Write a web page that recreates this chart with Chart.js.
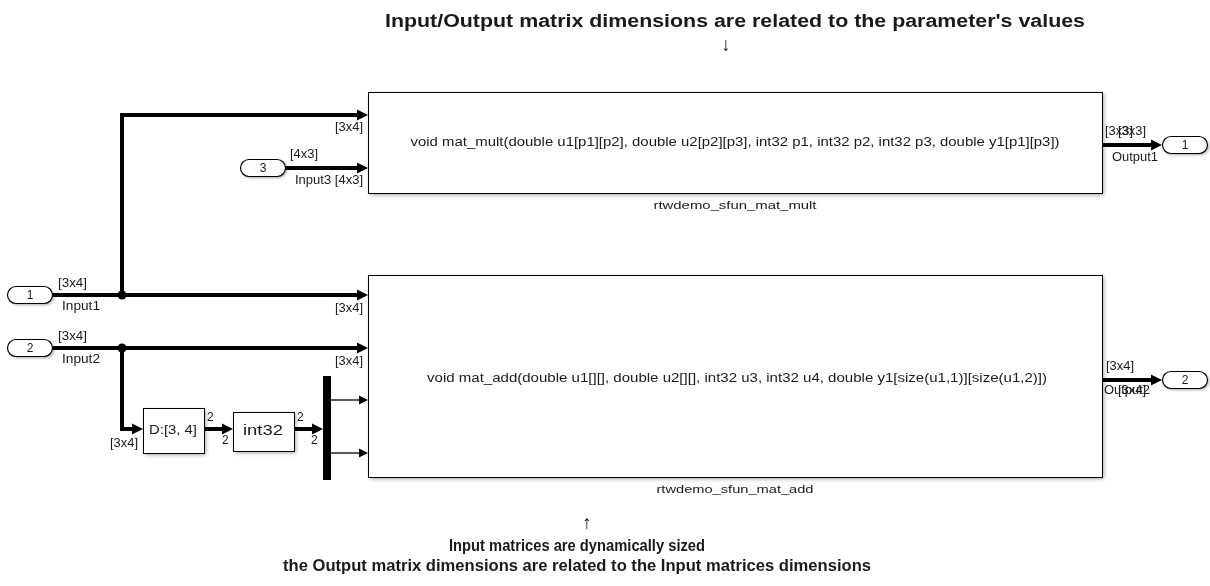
<!DOCTYPE html>
<html>
<head>
<meta charset="utf-8">
<script src="https://cdn.jsdelivr.net/npm/chart.js@4/dist/chart.umd.min.js"></script>
<style>
  html, body { margin: 0; padding: 0; background: #ffffff; }
  canvas { display: block; }
</style>
</head>
<body>
<canvas id="diagram" width="1210" height="586"></canvas>
<script>
// --- DIAGRAM TEXT ---
const headerNote = "Input/Output matrix dimensions are related to the parameter's values";
const footerNote = ["Input matrices are dynamically sized",
                    "the Output matrix dimensions are related to the Input matrices dimensions"];
const sfunSignatures = [
  "void mat_mult(double u1[p1][p2], double u2[p2][p3], int32 p1, int32 p2, int32 p3, double y1[p1][p3])",
  "void mat_add(double u1[][], double u2[][], int32 u3, int32 u4, double y1[size(u1,1)][size(u1,2)])"
];
const sfunNames = ["rtwdemo_sfun_mat_mult", "rtwdemo_sfun_mat_add"];
const inportNumbers = ["1", "2", "3"];
const outportNumbers = ["1", "2"];

// --- DIAGRAM GEOMETRY (x, y in picture units) ---
// blocks: [left, top, right, bottom]
const sfunBoxes = [[368, 92, 1102, 193], [368, 275, 1102, 477]];
const smallBoxes = [[143, 408, 204, 453], [233, 412, 294, 451]];
const smallBoxText = ["D:[3, 4]", "int32"];
const inportCenters = [[30, 295], [30, 348], [263, 168]];
const outportCenters = [[1185, 145], [1185, 380]];
const muxBar = [[327, 376], [327, 480]];
const junctions = [[122, 295], [122, 348]];

// signals (thick), each ends with an arrow
const thickSignals = [
  [[53, 295], [368, 295]],
  [[122, 295], [122, 115], [368, 115]],
  [[285, 168], [368, 168]],
  [[53, 348], [368, 348]],
  [[122, 348], [122, 429], [143, 429]],
  [[204, 429], [233, 429]],
  [[294, 429], [323, 429]],
  [[1102, 145], [1162, 145]],
  [[1102, 380], [1162, 380]]
];
const thinSignals = [
  [[331, 400], [368, 400]],
  [[331, 453], [368, 453]]
];

// signal dimension labels: text, x, y, align, width
const dimLabels = [
  ["[3x4]", 363, 128, 'right', 28],
  ["[4x3]", 290, 155, 'left', 28],
  ["Input3 [4x3]", 295, 181, 'left', 68],
  ["[3x4]", 58, 284, 'left', 29],
  ["Input1", 62, 307, 'left', 38],
  ["[3x4]", 363, 309, 'right', 28],
  ["[3x4]", 58, 337, 'left', 29],
  ["Input2", 62, 360, 'left', 38],
  ["[3x4]", 363, 362, 'right', 28],
  ["[3x4]", 110, 444, 'left', 28],
  ["2", 207, 418, 'left', 0],
  ["2", 222, 441, 'left', 0],
  ["2", 297, 418, 'left', 0],
  ["2", 311, 441, 'left', 0],
  ["[3x3]", 1105, 132, 'left', 28],
  ["[3x3]", 1118, 132, 'left', 28],
  ["Output1", 1112, 158, 'left', 46],
  ["[3x4]", 1106, 367, 'left', 28],
  ["Output2", 1104, 391, 'left', 46],
  ["[3x4]", 1118, 391, 'left', 28]
];

const FONT = '"Liberation Sans", Arial, Helvetica, sans-serif';

function pts(list) {
  return list.map(p => ({ x: p[0], y: p[1] }));
}

// pull the end of a signal back so the arrowhead tip stays sharp
function trimmed(list, cut) {
  const out = list.map(p => p.slice());
  const a = out[out.length - 2], b = out[out.length - 1];
  const dx = b[0] - a[0], dy = b[1] - a[1];
  const len = Math.hypot(dx, dy) || 1;
  b[0] -= dx / len * cut;
  b[1] -= dy / len * cut;
  return out;
}

const datasets = [];
thickSignals.forEach(s => datasets.push({
  type: 'line', data: pts(trimmed(s, 6)), showLine: true, borderColor: '#000', borderWidth: 4,
  pointRadius: 0, fill: false, tension: 0, borderCapStyle: 'butt', borderJoinStyle: 'miter'
}));
thinSignals.forEach(s => datasets.push({
  type: 'line', data: pts(trimmed(s, 5)), showLine: true, borderColor: '#000', borderWidth: 1.3,
  pointRadius: 0, fill: false, tension: 0, borderCapStyle: 'butt'
}));
datasets.push({
  type: 'line', data: pts(muxBar), showLine: true, borderColor: '#000', borderWidth: 8,
  pointRadius: 0, fill: false, borderCapStyle: 'butt'
});
datasets.push({
  type: 'scatter', data: pts(junctions), pointRadius: 4.5, pointBackgroundColor: '#000',
  pointBorderColor: '#000', pointBorderWidth: 0
});

function px(chart, x) { return chart.scales.x.getPixelForValue(x); }
function py(chart, y) { return chart.scales.y.getPixelForValue(y); }

function drawBox(chart, b, shadow) {
  const ctx = chart.ctx;
  const x1 = px(chart, b[0]), y1 = py(chart, b[1]), x2 = px(chart, b[2]), y2 = py(chart, b[3]);
  ctx.save();
  if (shadow) {
    ctx.shadowColor = 'rgba(0,0,0,0.35)';
    ctx.shadowBlur = 4;
    ctx.shadowOffsetX = 2;
    ctx.shadowOffsetY = 2;
  }
  ctx.fillStyle = '#fff';
  ctx.fillRect(x1, y1, x2 - x1, y2 - y1);
  ctx.restore();
}

function outlineBox(chart, b) {
  const ctx = chart.ctx;
  const x1 = Math.round(px(chart, b[0])) + 0.5, y1 = Math.round(py(chart, b[1])) + 0.5;
  const x2 = Math.round(px(chart, b[2])) + 0.5, y2 = Math.round(py(chart, b[3])) + 0.5;
  ctx.save();
  ctx.strokeStyle = '#000';
  ctx.lineWidth = 1;
  ctx.strokeRect(x1, y1, x2 - x1, y2 - y1);
  ctx.restore();
}

function drawPort(chart, c, label) {
  const ctx = chart.ctx;
  const cx = px(chart, c[0]), cy = py(chart, c[1]);
  const w = 45, h = 17, r = h / 2;
  const x = cx - w / 2, y = cy - h / 2;
  ctx.save();
  ctx.beginPath();
  ctx.moveTo(x + r, y);
  ctx.lineTo(x + w - r, y);
  ctx.arc(x + w - r, cy, r, -Math.PI / 2, Math.PI / 2);
  ctx.lineTo(x + r, y + h);
  ctx.arc(x + r, cy, r, Math.PI / 2, Math.PI * 1.5);
  ctx.closePath();
  ctx.shadowColor = 'rgba(0,0,0,0.35)';
  ctx.shadowBlur = 3;
  ctx.shadowOffsetX = 1.5;
  ctx.shadowOffsetY = 1.5;
  ctx.fillStyle = '#fff';
  ctx.fill();
  ctx.shadowColor = 'transparent';
  ctx.strokeStyle = '#000';
  ctx.lineWidth = 1.2;
  ctx.stroke();
  ctx.restore();
  drawText(chart, label, c[0], c[1] + 0.5, 'center', '12px ' + FONT, 0);
}

function drawArrow(chart, s, len, half) {
  const ctx = chart.ctx;
  const a = s[s.length - 2], b = s[s.length - 1];
  const ax = px(chart, a[0]), ay = py(chart, a[1]), bx = px(chart, b[0]), by = py(chart, b[1]);
  const ang = Math.atan2(by - ay, bx - ax);
  ctx.save();
  ctx.translate(bx, by);
  ctx.rotate(ang);
  ctx.beginPath();
  ctx.moveTo(0, 0);
  ctx.lineTo(-len, -half);
  ctx.lineTo(-len, half);
  ctx.closePath();
  ctx.fillStyle = '#000';
  ctx.fill();
  ctx.restore();
}

// text, optionally squeezed/stretched to the width
function drawText(chart, text, x, y, align, font, width) {
  const ctx = chart.ctx;
  ctx.save();
  ctx.font = font;
  ctx.fillStyle = '#1a1a1a';
  ctx.textBaseline = 'middle';
  const X = px(chart, x), Y = py(chart, y);
  const natural = ctx.measureText(text).width;
  const sx = width ? width / natural : 1;
  ctx.translate(X, Y);
  ctx.scale(sx, 1);
  ctx.textAlign = align;
  ctx.fillText(text, 0, 0);
  ctx.restore();
}

const diagramPlugin = {
  id: 'diagram',
  beforeDatasetsDraw(chart) {
    sfunBoxes.forEach(b => drawBox(chart, b, true));
    smallBoxes.forEach(b => drawBox(chart, b, true));
  },
  afterDatasetsDraw(chart) {
    sfunBoxes.forEach(b => outlineBox(chart, b));
    smallBoxes.forEach(b => outlineBox(chart, b));
    thickSignals.forEach(s => drawArrow(chart, s, 11, 5.5));
    thinSignals.forEach(s => drawArrow(chart, s, 9, 4.5));
    inportCenters.forEach((c, i) => drawPort(chart, c, inportNumbers[i]));
    outportCenters.forEach((c, i) => drawPort(chart, c, outportNumbers[i]));

    // block contents
    drawText(chart, sfunSignatures[0], 735, 143, 'center', '12px ' + FONT, 649);
    drawText(chart, sfunSignatures[1], 737, 379, 'center', '12px ' + FONT, 620);
    drawText(chart, sfunNames[0], 735, 206, 'center', '11.5px ' + FONT, 163);
    drawText(chart, sfunNames[1], 735, 490, 'center', '11.5px ' + FONT, 157);
    drawText(chart, smallBoxText[0], 173, 431, 'center', '12.5px ' + FONT, 48);
    drawText(chart, smallBoxText[1], 263, 431, 'center', '15px ' + FONT, 40);

    dimLabels.forEach(l => drawText(chart, l[0], l[1], l[2], l[3], '12px ' + FONT, l[4]));

    // notes
    drawText(chart, headerNote, 735, 22, 'center', 'bold 18px ' + FONT, 700);
    drawText(chart, "\u2193", 726, 46, 'center', '19px ' + FONT, 0);
    drawText(chart, "\u2191", 587, 524, 'center', '19px ' + FONT, 0);
    drawText(chart, footerNote[0], 577, 546, 'center', 'bold 17px ' + FONT, 256);
    drawText(chart, footerNote[1], 577, 566, 'center', 'bold 17px ' + FONT, 588);
  }
};

new Chart(document.getElementById('diagram'), {
  type: 'scatter',
  data: { datasets: datasets },
  options: {
    responsive: false,
    animation: false,
    devicePixelRatio: 1,
    events: [],
    layout: { padding: 0, autoPadding: false },
    plugins: { legend: { display: false }, tooltip: { enabled: false } },
    scales: {
      x: { type: 'linear', min: 0, max: 1210, display: false },
      y: { type: 'linear', min: 0, max: 586, reverse: true, display: false }
    }
  },
  plugins: [diagramPlugin]
});
</script>
</body>
</html>
